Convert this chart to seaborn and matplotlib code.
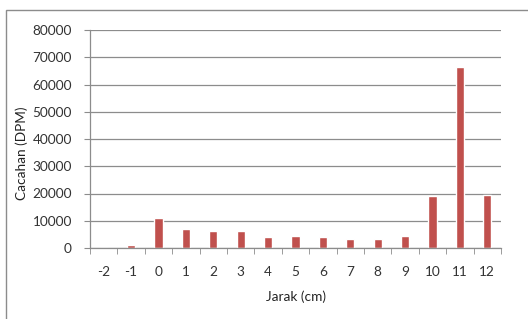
import matplotlib
matplotlib.use("Agg")
import matplotlib.pyplot as plt
import seaborn as sns
import pandas as pd
from matplotlib.patches import Rectangle

sns.set_style("white")
plt.rcParams['font.family'] = ['Lato', 'DejaVu Sans']

jarak = ['-2', '-1', '0', '1', '2', '3', '4', '5', '6', '7', '8', '9', '10', '11', '12']
cacahan = [0, 1000, 11000, 7000, 6200, 6200, 4000, 4400, 4000, 3300, 3300, 4400, 19000, 66500, 19600]

df = pd.DataFrame({'Jarak': jarak, 'Cacahan': cacahan})

W, H = 528, 319
fig = plt.figure(figsize=(W / 100, H / 100), dpi=100)
ax = fig.add_axes([90 / W, 1 - 248 / H, 411 / W, 218 / H])

sns.barplot(data=df, x='Jarak', y='Cacahan', order=jarak, color='#C0504D',
            saturation=1, width=0.3, ax=ax)

ax.set_ylim(0, 80000)
ax.set_xlim(-0.5, len(jarak) - 0.5)
ax.set_yticks(range(0, 80001, 10000))
ax.set_yticklabels([str(v) for v in range(0, 80001, 10000)], fontsize=9.8, color='#333333')
ax.yaxis.grid(True, color='#8c8c8c', linewidth=0.9)
ax.set_axisbelow(True)

ax.tick_params(axis='x', length=0, labelsize=9.8, pad=13, colors='#333333')
ax.tick_params(axis='y', length=4, color='#8c8c8c', left=True, pad=9)
ax.set_xticks([i - 0.5 for i in range(len(jarak) + 1)], minor=True)
ax.tick_params(axis='x', which='minor', length=4, color='#8c8c8c', bottom=True)

for s in ['top', 'right']:
    ax.spines[s].set_visible(False)
for s in ['left', 'bottom']:
    ax.spines[s].set_color('#8c8c8c')
    ax.spines[s].set_linewidth(0.9)

ax.set_xlabel('Jarak (cm)', fontsize=9.8, labelpad=9, color='#222222')
ax.set_ylabel('Cacahan (DPM)', fontsize=9.8, color='#222222')
ax.yaxis.set_label_coords(-0.151, 0.436)

fig.patches.append(Rectangle((6 / W, -0.1), 1.2, 1 - 10 / H + 0.1, transform=fig.transFigure,
                             fill=False, edgecolor='#8c8c8c', linewidth=1))

fig.savefig('out.png', dpi=100)
